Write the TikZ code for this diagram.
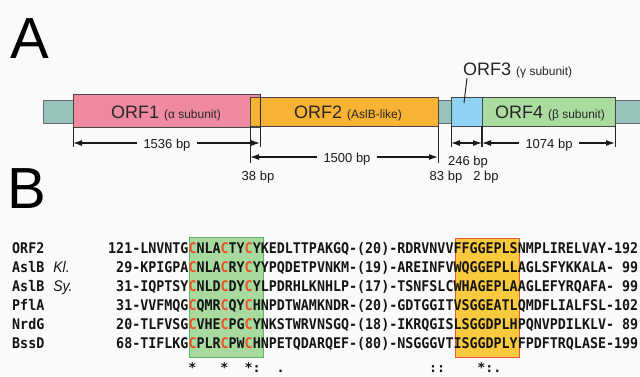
\documentclass[tikz,border=0pt]{standalone}
\usepackage{graphicx}
\usepackage{fontspec}
\setmainfont{Liberation Sans}
\newfontfamily\alnfont{DejaVu Sans Mono}
\usetikzlibrary{arrows.meta,calc}
\definecolor{bg}{RGB}{250,250,250}
\definecolor{flank}{RGB}{150,196,186}
\definecolor{pinkorf}{RGB}{240,138,160}
\definecolor{orangeorf}{RGB}{248,178,52}
\definecolor{blueorf}{RGB}{142,212,242}
\definecolor{greenorf}{RGB}{170,220,160}
\definecolor{edgecol}{RGB}{70,70,70}
\definecolor{cysred}{RGB}{235,85,40}
\definecolor{gbox}{RGB}{168,218,160}
\definecolor{gboxedge}{RGB}{95,178,105}
\definecolor{obox}{RGB}{250,202,62}
\definecolor{oboxedge}{RGB}{232,88,55}
\newcommand\cy{\textcolor{cysred}{C}}
\newcommand\orflab[2]{{\fontsize{18}{18}\selectfont #1}\hspace{5pt}{\fontsize{12}{12}\selectfont #2}}
\newcommand\spc{\phantom{0}}
\newcommand\spitalic[1]{\hspace{9pt}{\rmfamily\mdseries\itshape\fontsize{14}{14}\selectfont #1}}
\newcommand\aln[1]{\scalebox{1}[1.1]{#1}}
\begin{document}
\begin{tikzpicture}[x=1pt,y=-1pt,
  orfbox/.style={draw=edgecol, line width=0.7pt, inner sep=0pt, outer sep=0pt, anchor=north west},
  ext/.style={draw=black!85, line width=0.9pt},
  dim/.style={draw=black!90, line width=1.2pt, -{Latex[length=9pt,width=6pt]}},
  dimlab/.style={font=\fontsize{13}{13}\selectfont, anchor=base, inner xsep=6pt, inner ysep=0pt, text=black!90},
  orfname/.style={anchor=base, inner sep=0pt, text=black!85},
  biglab/.style={anchor=base west, inner sep=0pt, font=\fontsize{58}{58}\selectfont},
  alnrow/.style={anchor=base west, inner sep=0pt, text=black!92, font=\alnfont\bfseries\fontsize{13.34}{13.34}\selectfont},
  motif/.style={inner sep=0pt, outer sep=0pt, anchor=north west, line width=1pt}
]
\useasboundingbox (0,0) rectangle (640,376);
\fill[bg] (0,0) rectangle (640,376);

% ---------- Panel A ----------
\node[biglab] (labA) at (10,58) {A};

\node[orfbox, draw=edgecol!80, fill=flank, minimum width=600, minimum height=23] (flankbar) at (43,100) {};
\node[orfbox, fill=pinkorf, minimum width=187, minimum height=33] (orf1) at (73,94) {};
\node[orfbox, fill=orangeorf, minimum width=188, minimum height=29] (orf2) at (250,97) {};
\draw[draw=edgecol, line width=0.7pt] (orf1.north west) rectangle (orf1.south east);
\node[orfbox, fill=blueorf, minimum width=31, minimum height=29] (orf3) at (451,97) {};
\node[orfbox, fill=greenorf, minimum width=133, minimum height=29] (orf4) at (482,97) {};

\node[orfname] (t1) at (166,118) {\orflab{ORF1}{(α subunit)}};
\node[orfname] (t2) at (348,118) {\orflab{ORF2}{(AslB-like)}};
\node[orfname] (t4) at (550,118) {\orflab{ORF4}{(β subunit)}};
\node[anchor=base west, inner sep=0pt, text=black!85] (t3) at (463,75) {\orflab{ORF3}{(γ subunit)}};
\coordinate (o3pt) at (464,103);
\draw[line width=1pt, black!85] ($(t3.base west)+(4,3)$) -- (o3pt);

% extension lines
\draw[ext] (orf1.south west) -- ++(0,20);
\draw[ext] (orf1.north east) -- ++(0,53);
\draw[ext] (orf2.south west) -- ++(0,37);
\draw[ext] (orf2.south east) -- ++(0,37);
\draw[ext] (orf3.south west) -- ++(0,21);
\draw[ext, line width=1.3pt] (orf4.south west) -- ++(0,21);
\draw[ext] (orf4.south east) -- ++(0,21);

% dimension lines
\coordinate (d1a) at (73,143);  \coordinate (d1b) at (260,143);
\coordinate (d2a) at (250,157); \coordinate (d2b) at (438,157);
\coordinate (d3a) at (451,143); \coordinate (d3b) at (482,143); \coordinate (d3m) at (466.5,143);
\coordinate (d4a) at (482,143); \coordinate (d4b) at (615,143);

\node[dimlab] (l1536) at (167,148) {1536 bp};
\draw[dim] (l1536.west |- d1a) -- (d1a);
\draw[dim] (l1536.east |- d1b) -- (d1b);

\node[dimlab] (l1500) at (347,162) {1500 bp};
\draw[dim] (l1500.west |- d2a) -- (d2a);
\draw[dim] (l1500.east |- d2b) -- (d2b);

\draw[dim] (d3m) -- (d3a);
\draw[dim] (d3m) -- (d3b);
\node[dimlab] (l246) at (468,165) {246 bp};

\node[dimlab] (l1074) at (549,148) {1074 bp};
\draw[dim] (l1074.west |- d4a) -- (d4a);
\draw[dim] (l1074.east |- d4b) -- (d4b);

\node[dimlab] (l38) at (258,180) {38 bp};
\node[dimlab] (l83) at (446,180) {83 bp};
\node[dimlab] (l2) at (486,180) {2 bp};

% ---------- Panel B ----------
\node[biglab] (labB) at (7.5,208) {B};

\node[motif, draw=gboxedge, fill=gbox, minimum width=74, minimum height=120] (gmotif) at (189,237) {};
\node[motif, draw=oboxedge, fill=obox, minimum width=64, minimum height=119] (omotif) at (455,238) {};

\node[alnrow] (n1) at (12,253) {\aln{ORF2}};
\node[alnrow] (n2) at (12,272) {\aln{AslB\spitalic{Kl.}}};
\node[alnrow] (n3) at (12,291) {\aln{AslB\spitalic{Sy.}}};
\node[alnrow] (n4) at (12,310) {\aln{PflA}};
\node[alnrow] (n5) at (12,329) {\aln{NrdG}};
\node[alnrow] (n6) at (12,348) {\aln{BssD}};

\node[alnrow] (r1) at (108,253) {\aln{121-LNVNTG\cy NLA\cy TY\cy YKEDLTTPAKGQ-(20)-RDRVNVVFFGGEPLSNMPLIRELVAY-192}};
\node[alnrow] (r2) at (108,272) {\aln{\spc29-KPIGPA\cy NLA\cy RY\cy YYPQDETPVNKM-(19)-AREINFVWQGGEPLLAGLSFYKKALA-\spc99}};
\node[alnrow] (r3) at (108,291) {\aln{\spc31-IQPTSY\cy NLD\cy DY\cy YLPDRHLKNHLP-(17)-TSNFSLCWHAGEPLAAGLEFYRQAFA-\spc99}};
\node[alnrow] (r4) at (108,310) {\aln{\spc31-VVFMQG\cy QMR\cy QY\cy HNPDTWAMKNDR-(20)-GDTGGITVSGGEATLQMDFLIALFSL-102}};
\node[alnrow] (r5) at (108,329) {\aln{\spc20-TLFVSG\cy VHE\cy PG\cy YNKSTWRVNSGQ-(18)-IKRQGISLSGGDPLHPQNVPDILKLV-\spc89}};
\node[alnrow] (r6) at (108,348) {\aln{\spc68-TIFLKG\cy PLR\cy PW\cy HNPETQDARQEF-(80)-NSGGGVTISGGDPLYFPDFTRQLASE-199}};

\foreach \i/\m in {10/*,14/*,17/*,18/:,21/.,40/:,41/:,46/*,47/:,48/.}
  \node[alnrow, anchor=base] (cons\i) at ({108+(\i+0.5)*8.03},372) {\m};
\end{tikzpicture}
\end{document}
